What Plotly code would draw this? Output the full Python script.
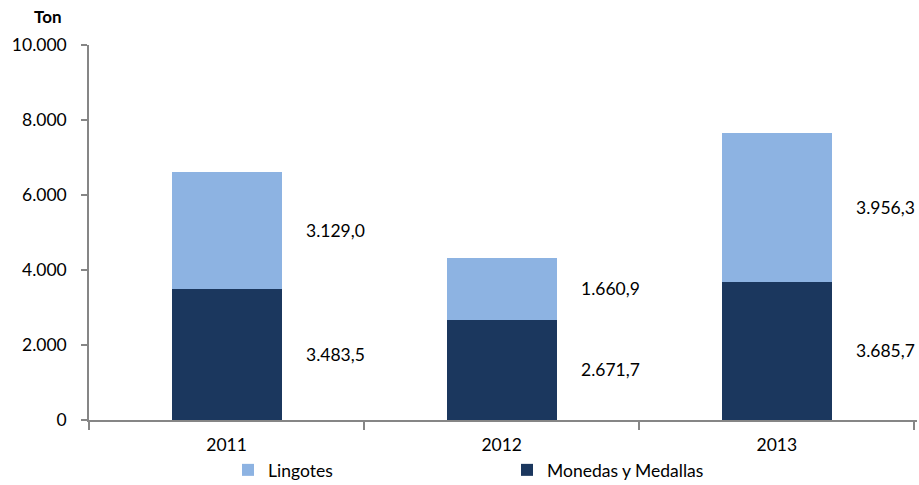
import plotly.graph_objects as go

# data (toneladas)
years = ["2011", "2012", "2013"]
monedas = [3483.5, 2671.7, 3685.7]
lingotes = [3129.0, 1660.9, 3956.3]
y_ticks = [0, 2000, 4000, 6000, 8000, 10000]

FONT = "Lato"
FS = 17.5
DARK = "#1B375E"
LIGHT = "#8DB3E2"
AXIS = "#868686"
LABEL_OFFSET = 0.395  # label position right of bar centre, in category units


def fmt_es(v: float) -> str:
    """3483.5 -> '3.483,5'"""
    return f"{v:,.1f}".replace(",", "X").replace(".", ",").replace("X", ".")


fig = go.Figure()
fig.add_trace(go.Bar(x=years, y=monedas, name="Monedas y Medallas",
                     marker=dict(color=DARK, line=dict(width=0)), width=0.4))
fig.add_trace(go.Bar(x=years, y=lingotes, name="Lingotes",
                     marker=dict(color=LIGHT, line=dict(width=0)), width=0.4))

# value labels to the right of each segment
for i, (m, l) in enumerate(zip(monedas, lingotes)):
    fig.add_annotation(x=i + LABEL_OFFSET, y=m / 2, text=fmt_es(m), showarrow=False,
                       font=dict(family=FONT, size=FS, color="#000000"))
    fig.add_annotation(x=i + LABEL_OFFSET, y=m + l / 2, text=fmt_es(l), showarrow=False,
                       font=dict(family=FONT, size=FS, color="#000000"))

fig.add_annotation(text="<b>Ton</b>", xref="paper", yref="paper", x=-0.049, y=1.0,
                   yshift=29, xanchor="center", yanchor="middle", showarrow=False,
                   font=dict(family=FONT, size=17, color="#000000"))

fig.update_layout(
    barmode="stack",
    width=919, height=485,
    margin=dict(l=89, r=2, t=45, b=65, autoexpand=False),
    plot_bgcolor="white", paper_bgcolor="white",
    separators=",.",
    font=dict(family=FONT, size=FS, color="#000000"),
    legend=dict(orientation="h", traceorder="reversed",
                x=(228 - 89) / 828, y=-0.1333, xanchor="left", yanchor="middle",
                entrywidth=234, entrywidthmode="pixels",
                font=dict(family=FONT, size=FS), itemclick=False),
    showlegend=True,
)

fig.update_xaxes(type="category", categoryorder="array", categoryarray=years,
                 showline=True, linecolor=AXIS, linewidth=1.5,
                 ticks="outside", tickson="boundaries", ticklen=8,
                 tickcolor=AXIS, tickwidth=1.5, showgrid=False,
                 ticklabelstandoff=8)
fig.update_yaxes(range=[0, 10000], tickvals=y_ticks, tickformat=",.0f",
                 showline=True, linecolor=AXIS, linewidth=1.5,
                 ticks="outside", ticklen=6, tickcolor=AXIS, tickwidth=1.5,
                 showgrid=False, zeroline=False, ticklabelstandoff=11)

# drop the default body margin so the figure fills the window exactly
fig.write_html("out.html", config={"displayModeBar": False},
               post_script="document.body.style.margin='0';")
